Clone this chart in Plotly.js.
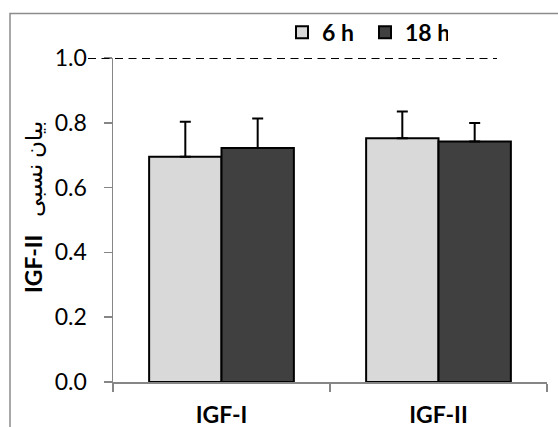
<!DOCTYPE html>
<html>
<head>
<meta charset="utf-8">
<script src="https://cdn.plot.ly/plotly-3.0.1.min.js"></script>
<style>html,body{margin:0;padding:0;background:#fff;}#chart{width:558px;height:427px;}</style>
</head>
<body>
<div id="chart"></div>
<script>
// ---- data ----
var categories = ["IGF-I", "IGF-II"];
var seriesNames = ["6 h", "18 h"];
var values6h = [0.695, 0.752];
var errors6h = [0.108, 0.083];
var values18h = [0.722, 0.742];
var errors18h = [0.091, 0.057];
var yTickValues = [0, 0.2, 0.4, 0.6, 0.8, 1.0];
var yTickLabels = ["0.0", "0.2", "0.4", "0.6", "0.8", "1.0"];
var yTitle = "<b>IGF-II</b>\u00a0\u00a0\u00a0بیان نسبی";
var referenceLevel = 1.0;

var W = 558, H = 427;
var M = {l: 113, r: 11, t: 55, b: 45};
var pw = W - M.l - M.r, ph = H - M.t - M.b;
function px2x(p) { return (p - M.l) / pw; }
function px2y(p) { return (H - M.b - p) / ph; }

var FONT = "Lato, 'DejaVu Sans', sans-serif";

var traces = [
  {
    type: "bar", name: seriesNames[0], x: categories, y: values6h,
    marker: {color: "#d9d9d9", line: {color: "#000", width: 2}},
    error_y: {type: "data", array: errors6h, symmetric: false, arrayminus: [0, 0], visible: true, color: "#000", thickness: 2, width: 5.5}
  },
  {
    type: "bar", name: seriesNames[1], x: categories, y: values18h,
    marker: {color: "#404040", line: {color: "#000", width: 2}},
    error_y: {type: "data", array: errors18h, symmetric: false, arrayminus: [0, 0], visible: true, color: "#000", thickness: 2, width: 5.5}
  }
];

var layout = {
  width: W, height: H,
  margin: M,
  paper_bgcolor: "#fff", plot_bgcolor: "rgba(0,0,0,0)",
  font: {family: FONT, color: "#000", size: 23},
  barmode: "group", bargap: 0.333, bargroupgap: 0,
  showlegend: true,
  legend: {
    orientation: "h", x: px2x(282), xanchor: "left", y: px2y(29), yanchor: "middle",
    font: {family: FONT, size: 23, color: "#000", weight: "bold"},
    entrywidth: 38, entrywidthmode: "pixels", bgcolor: "rgba(0,0,0,0)",
    traceorder: "normal"
  },
  xaxis: {
    type: "category", range: [-0.5, 1.5], fixedrange: true,
    showline: true, linecolor: "#868686", linewidth: 1.5,
    ticks: "outside", tickson: "boundaries", ticklen: 8, tickcolor: "#868686", tickwidth: 1.5,
    tickfont: {family: FONT, size: 23, color: "#000", weight: "bold"},
    ticklabelstandoff: 12,
    showgrid: false, zeroline: false
  },
  yaxis: {
    range: [0, 1.0], fixedrange: true,
    tickvals: yTickValues, ticktext: yTickLabels,
    showline: true, linecolor: "#868686", linewidth: 1.5,
    ticks: "outside", ticklen: 8, tickcolor: "#868686", tickwidth: 1.5,
    tickfont: {family: FONT, size: 23, color: "#000"},
    ticklabelstandoff: 12,
    showgrid: false, zeroline: false
  },
  shapes: [
    {type: "line", xref: "paper", yref: "y", x0: px2x(88), x1: px2x(497), y0: referenceLevel, y1: referenceLevel,
     line: {color: "#000", width: 1.75, dash: "8px,5.5px"}},
    {type: "rect", xref: "paper", yref: "paper", x0: px2x(10), x1: px2x(600), y0: px2y(470), y1: px2y(10),
     line: {color: "#8c8c8c", width: 1.5}, fillcolor: "rgba(0,0,0,0)"}
  ],
  annotations: [
    {text: yTitle, xref: "paper", yref: "paper", x: px2x(33), y: 0.54, textangle: -90,
     showarrow: false, xanchor: "center", yanchor: "middle",
     font: {family: FONT, size: 23, color: "#000"}}
  ]
};

Plotly.newPlot("chart", traces, layout, {displayModeBar: false, staticPlot: true});
</script>
</body>
</html>
